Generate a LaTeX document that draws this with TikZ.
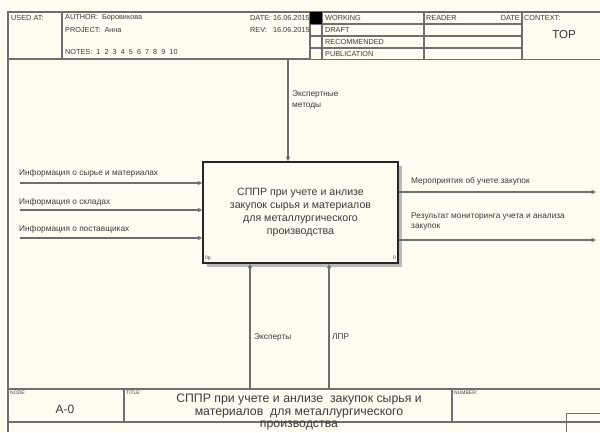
\documentclass[tikz,border=0pt]{standalone}
\usepackage{fontspec}
\setmainfont{Liberation Sans}
\usetikzlibrary{arrows.meta}
\definecolor{bgc}{RGB}{255,251,240}
\definecolor{linec}{RGB}{110,110,110}
\definecolor{txtc}{RGB}{60,60,60}
\tikzset{
  frame/.style={draw=linec, line width=1.1pt},
  hdr/.style={font=\fontsize{7.3}{8}\selectfont, text=txtc, inner sep=0pt, anchor=west},
  tiny/.style={font=\fontsize{5}{6}\selectfont, text=txtc, inner sep=0pt, anchor=west},
  lbl/.style={font=\fontsize{8.3}{10.5}\selectfont, text=txtc, inner sep=0pt, anchor=west, align=left},
  arr/.style={draw=linec, line width=1.1pt, -{Triangle[length=4.5pt,width=4pt]}, shorten >=0pt},
  funcbox/.style={draw=black!85, line width=1.4pt, fill=bgc, minimum width=195pt, minimum height=101pt,
     inner sep=0pt, align=center, font=\fontsize{10.6}{12.8}\selectfont, text=txtc}
}
\begin{document}
\begin{tikzpicture}[x=1pt,y=-1pt]
\useasboundingbox (0,0) rectangle (600,432);
\fill[bgc] (0,0) rectangle (600,432);
% header frame
\draw[frame] (8,432) -- (8,12) -- (600,12);
\draw[frame] (8,59) -- (600,59);
\draw[frame] (62,12) -- (62,59);
\node[hdr] (usedat) at (11,17.5) {USED AT:};
\node[hdr] (author) at (65,17.5) {AUTHOR:\ \ Боровикова};
\node[hdr] (project) at (65,29.5) {PROJECT:\ \ Анна};
\node[hdr] (notes) at (65,52) {NOTES:\ \ 1\ \ 2\ \ 3\ \ 4\ \ 5\ \ 6\ \ 7\ \ 8\ \ 9\ \ 10};
\node[hdr] (date) at (250,17.5) {DATE:\ 16.06.2015};
\node[hdr] (rev) at (250,29.5) {REV:\ \ \ 16.06.2015};
\fill[bgc] (310.5,12.5) rectangle (600,58.5);
\draw[frame] (310,12) -- (310,59);
\draw[frame] (322,12) -- (322,59);
\draw[frame] (424,12) -- (424,59);
\draw[frame] (522,12) -- (522,59);
\draw[frame] (310,12) -- (600,12);
\foreach \yy in {24,36,48} \draw[frame] (310,\yy) -- (522,\yy);
\fill[black] (310,12) rectangle (322,24);
\node[hdr] (working) at (325,17.5) {WORKING};
\node[hdr] (draft) at (325,29.5) {DRAFT};
\node[hdr] (recommended) at (325,41.5) {RECOMMENDED};
\node[hdr] (publication) at (325,53.5) {PUBLICATION};
\node[hdr] (reader) at (426,17.5) {READER};
\node[hdr, anchor=east] (rdate) at (520,17.5) {DATE};
\node[hdr] (context) at (524,17.5) {CONTEXT:};
\node[font=\fontsize{11.5}{13}\selectfont, text=black!80, inner sep=0pt] (top) at (564,35) {TOP};
% main box with shadow
\fill[gray!55] (207,166) rectangle (402,267);
\node[funcbox] (box) at (300.5,212.5) {СППР при учете и анлизе\\закупок сырья и материалов\\для металлургического\\производства};
\node[tiny] (op) at (205,258) {0р.};
\node[tiny, anchor=east] (zero) at (396,258) {0};
% control
\coordinate (ctl) at (288,59.5);
\draw[arr] (ctl) -- (ctl |- box.north);
\node[lbl] (ctllbl) at (292,100) {Экспертные\\методы};
% inputs
\coordinate (in1) at (20,183);
\coordinate (in2) at (20,210);
\coordinate (in3) at (20,238);
\draw[arr] (in1) -- (in1 -| box.west);
\draw[arr] (in2) -- (in2 -| box.west);
\draw[arr] (in3) -- (in3 -| box.west);
\node[lbl] (in1lbl) at (19,173) {Информация о сырье и материалах};
\node[lbl] (in2lbl) at (19,202) {Информация о складах};
\node[lbl] (in3lbl) at (19,229) {Информация о поставщиках};
% outputs
\coordinate (out1) at (596,192);
\coordinate (out2) at (596,240);
\draw[arr] (out1 -| box.east) -- (out1);
\draw[arr] (out2 -| box.east) -- (out2);
\node[lbl] (out1lbl) at (411,181) {Мероприятия об учете закупок};
\node[lbl] (out2lbl) at (411,221.5) {Результат мониторинга учета и анализа\\закупок};
% mechanisms
\coordinate (m1) at (250,389);
\coordinate (m2) at (329,389);
\draw[arr] (m1) -- (m1 |- box.south);
\draw[arr] (m2) -- (m2 |- box.south);
\node[lbl] (m1lbl) at (254,337) {Эксперты};
\node[lbl] (m2lbl) at (332,337) {ЛПР};
% footer
\draw[frame] (8,389) -- (600,389);
\draw[frame] (8,422) -- (600,422);
\draw[frame] (124,389) -- (124,422);
\draw[frame] (452,389) -- (452,422);
\draw[draw=linec, line width=0.8pt] (566,432) -- (566,413) -- (600,413);
\node[tiny] (nodel) at (10,393) {NODE:};
\node[tiny] (titlel) at (126,393) {TITLE:};
\node[tiny] (numberl) at (454,393) {NUMBER:};
\node[font=\fontsize{12}{13}\selectfont, text=txtc, inner sep=0pt] (a0) at (65,409) {A-0};
\node[font=\fontsize{12.3}{12.8}\selectfont, text=txtc, inner sep=0pt, align=center, anchor=north] (title) at (299,393.5) {СППР при учете и анлизе\ \ закупок сырья и\\материалов\ \ для металлургического\\производства};
\end{tikzpicture}
\end{document}
